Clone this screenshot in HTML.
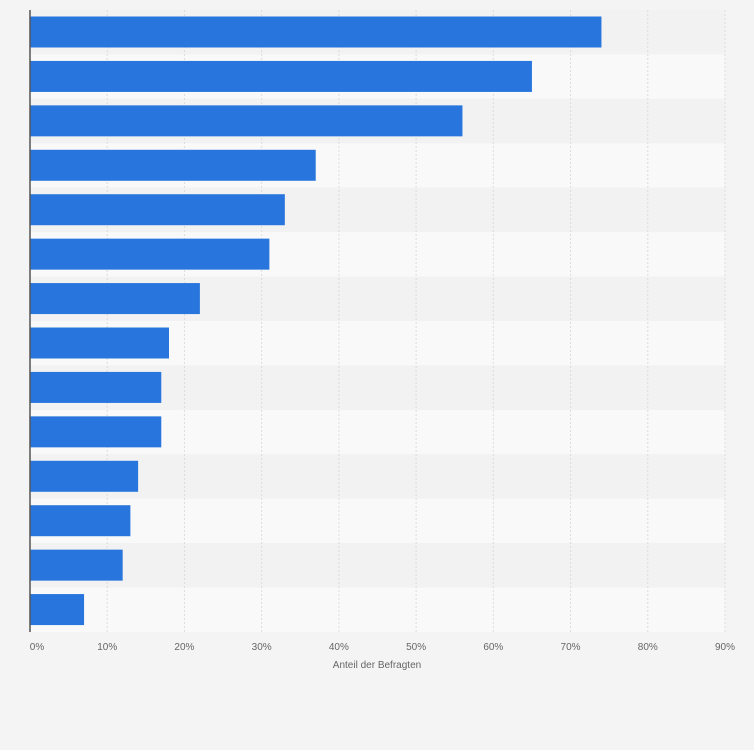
<!DOCTYPE html>
<html><head><meta charset="utf-8"><style>
html,body{margin:0;padding:0;background:#f4f4f4;}
svg{display:block;font-family:"Liberation Sans",sans-serif;}
</style></head><body>
<svg id="chart" width="754" height="750">
<rect x="0" y="0" width="754" height="750" fill="#f4f4f4"/>
<g id="bands"></g><g id="grid"></g><g id="bars"></g><g id="ticks"></g>
<line x1="30" y1="10" x2="30" y2="632" stroke="#555" stroke-width="1.5"/>
<text x="377" y="668" font-size="10" fill="#666" text-anchor="middle">Anteil der Befragten</text>
</svg>
<script>
const values = [74, 65, 56, 37, 33, 31, 22, 18, 17, 17, 14, 13, 12, 7];
const tickValues = [0, 10, 20, 30, 40, 50, 60, 70, 80, 90];
const tickLabels = ["0%", "10%", "20%", "30%", "40%", "50%", "60%", "70%", "80%", "90%"];
const NS = "http://www.w3.org/2000/svg";
const x0 = 30, x1 = 725, yTop = 10, yBot = 632;
const xScale = v => x0 + (v / 90) * (x1 - x0);
const pitch = (yBot - yTop) / values.length;
function mk(tag, attrs, parent){const e=document.createElementNS(NS,tag);for(const k in attrs)e.setAttribute(k,attrs[k]);document.getElementById(parent).appendChild(e);return e;}
values.forEach((v,i)=>{
  const b = mk("rect",{x:x0,y:yTop+i*pitch,width:x1-x0,height:pitch,fill:i%2?"#f9f9f9":"#f2f2f2"},"bands");
  
  
});
tickValues.forEach((t,i)=>{
  const x = xScale(t);
  if(i>0){
    const g = mk("line",{x1:x,y1:yTop,x2:x,y2:yBot,stroke:"#dcdcdc","stroke-dasharray":"2,2"},"grid");
    
    
  }
  const tx = mk("text",{x:i===0?x+7:x,y:650,"font-size":"10",fill:"#666","text-anchor":"middle"},"ticks");
  tx.textContent = tickLabels[i];
  
  
});
values.forEach((v,i)=>{
  const r = mk("rect",{x:x0,y:yTop+i*pitch+6.5,width:xScale(v)-x0,height:31,fill:"#2876dd"},"bars");
  
  
});
</script>
</body></html>
